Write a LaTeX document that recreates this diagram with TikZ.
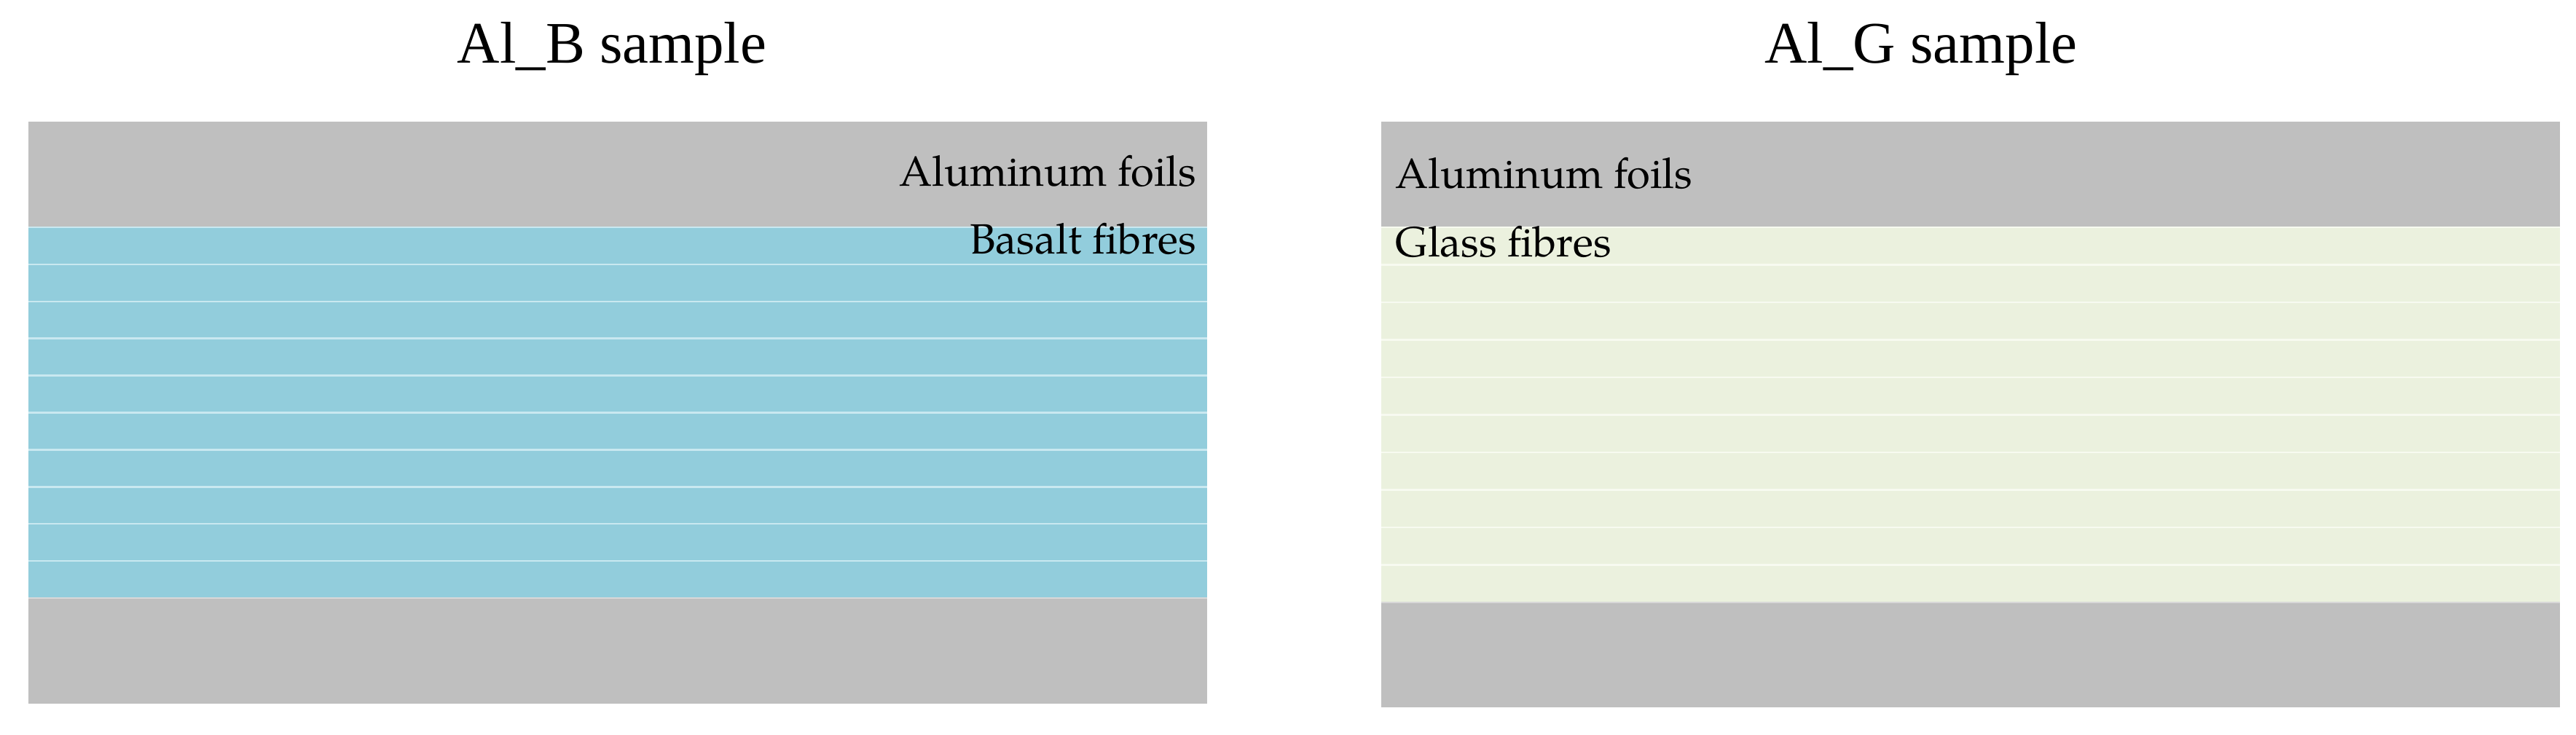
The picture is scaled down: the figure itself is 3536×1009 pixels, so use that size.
\documentclass[tikz,border=0pt]{standalone}
\usepackage{fontspec}
\setmainfont{Liberation Serif}
\newfontfamily\palfont{TeX Gyre Pagella}
\definecolor{foil}{HTML}{BFBFBF}
\definecolor{basalt}{HTML}{92CDDC}
\definecolor{basaltline}{HTML}{C9E8F0}
\definecolor{glass}{HTML}{EBF1DE}
\definecolor{glassline}{HTML}{F7FAF0}
\begin{document}
\begin{tikzpicture}[x=0.01cm,y=-0.01cm,
  titletext/.style={inner sep=0pt,font=\fontsize{23}{28}\selectfont},
  layertext/.style={inner sep=0pt,font=\palfont\fontsize{16.5}{20}\selectfont},
  sepline/.style={line width=0.7pt}]
\useasboundingbox (0,0) rectangle (3536,1009);
% left sample
\fill[foil] (39,167) rectangle (1657,312);
\fill[basalt] (39,312) rectangle (1657,821);
\foreach \i in {0,...,9} \draw[sepline,basaltline] (39,{312+50.9*\i}) -- (1657,{312+50.9*\i});
\fill[foil] (39,821) rectangle (1657,966);
\draw[sepline,foil!60!white] (39,821) -- (1657,821);
% right sample
\fill[foil] (1896,167) rectangle (3514,312);
\fill[glass] (1896,312) rectangle (3514,827);
\foreach \i in {0,...,9} \draw[sepline,glassline] (1896,{312+51.5*\i}) -- (3514,{312+51.5*\i});
\fill[foil] (1896,827) rectangle (3514,971);
\draw[sepline,foil!60!white] (1896,827) -- (3514,827);
% titles
\node[titletext,anchor=base] (titleB) at (840,87) {Al\_B sample};
\node[titletext,anchor=base] (titleG) at (2637,87) {Al\_G sample};
% labels
\node[layertext,anchor=base east] (alB) at (1643,255) {Aluminum foils};
\node[layertext,anchor=base east] (basB) at (1643,348) {Basalt fibres};
\node[layertext,anchor=base west] (alG) at (1915,258) {Aluminum foils};
\node[layertext,anchor=base west] (glG) at (1915,352) {Glass fibres};
\end{tikzpicture}
\end{document}
